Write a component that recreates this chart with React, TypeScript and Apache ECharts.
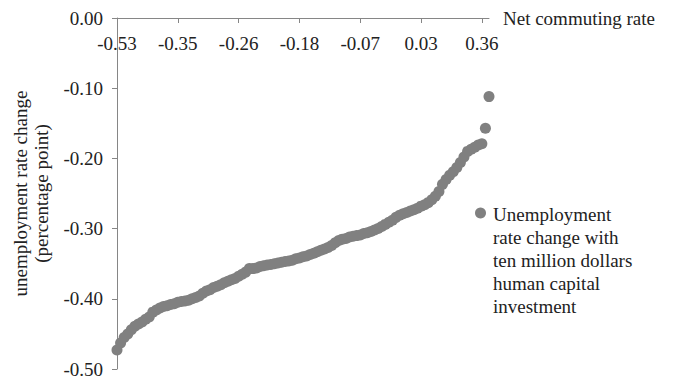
import React, { useEffect, useRef } from "react";
import * as echarts from "echarts";

// Net commuting rate tick labels shown on the top axis (every 17th ranked region)
const xTickLabels = ["-0.53", "-0.35", "-0.26", "-0.18", "-0.07", "0.03", "0.36"];
const tickStep = 17;

// Unemployment rate change (percentage point), regions ranked by net commuting rate
const unemploymentChange = [
  -0.473, -0.463, -0.455, -0.45, -0.444, -0.439, -0.436, -0.433, -0.429, -0.426,
  -0.419, -0.416, -0.413, -0.411, -0.41, -0.408, -0.407, -0.405, -0.404, -0.403,
  -0.402, -0.4, -0.398, -0.396, -0.392, -0.389, -0.387, -0.384, -0.382, -0.38,
  -0.377, -0.375, -0.373, -0.371, -0.368, -0.365, -0.362, -0.357, -0.357, -0.356,
  -0.354, -0.353, -0.352, -0.351, -0.35, -0.349, -0.348, -0.347, -0.346, -0.345,
  -0.343, -0.342, -0.34, -0.339, -0.337, -0.335, -0.333, -0.331, -0.329, -0.327,
  -0.324, -0.32, -0.317, -0.315, -0.314, -0.312, -0.311, -0.31, -0.309, -0.307,
  -0.306, -0.304, -0.302, -0.3, -0.297, -0.294, -0.291, -0.288, -0.284, -0.281,
  -0.279, -0.277, -0.275, -0.273, -0.271, -0.268, -0.266, -0.263, -0.259, -0.254,
  -0.247, -0.237, -0.23, -0.224, -0.219, -0.213, -0.206, -0.198, -0.19, -0.187,
  -0.184, -0.181, -0.179, -0.157, -0.112,
];

const categories = unemploymentChange.map((_, i) => String(i));

const seriesName = "Unemployment\nrate change with\nten million dollars\nhuman capital\ninvestment";

const FONT = "Liberation Serif, Times New Roman, serif";
const TEXT = "#222222";
const AXIS = "#868686";
const MARK = "#808080";

export default function App() {
  const ref = useRef<HTMLDivElement>(null);

  useEffect(() => {
    if (!ref.current) return;
    const chart = echarts.init(ref.current, null, { renderer: "svg" });
    chart.setOption({
      animation: false,
      textStyle: { fontFamily: FONT },
      grid: { left: 117, top: 18, width: 372, height: 351, containLabel: false },
      xAxis: {
        type: "category",
        data: categories,
        position: "top",
        boundaryGap: false,
        name: "Net commuting rate",
        nameLocation: "end",
        nameGap: 14,
        nameTextStyle: { fontFamily: FONT, fontSize: 19, color: TEXT, padding: [12, 0, 0, 0] },
        axisLine: { onZero: false, lineStyle: { color: AXIS, width: 1 } },
        axisTick: { show: true, inside: true, length: 5, interval: tickStep - 1, lineStyle: { color: AXIS } },
        axisLabel: {
          inside: true,
          margin: 16,
          interval: tickStep - 1,
          fontFamily: FONT,
          fontSize: 19,
          color: TEXT,
          formatter: (_v: string, idx: number) =>
            idx % tickStep === 0 ? xTickLabels[idx / tickStep] ?? "" : "",
        },
        splitLine: { show: false },
      },
      yAxis: {
        type: "value",
        min: -0.5,
        max: 0,
        interval: 0.1,
        name: "unemployment rate change\n(percentage point)",
        nameLocation: "middle",
        nameGap: 65,
        nameTextStyle: { fontFamily: FONT, fontSize: 19, color: TEXT, lineHeight: 21 },
        axisLine: { show: true, lineStyle: { color: AXIS, width: 1 } },
        axisTick: { show: true, length: 5, lineStyle: { color: AXIS } },
        axisLabel: {
          margin: 14,
          fontFamily: FONT,
          fontSize: 19,
          color: TEXT,
          formatter: (v: number) => v.toFixed(2),
        },
        splitLine: { show: false },
      },
      series: [
        {
          name: seriesName,
          type: "scatter",
          data: unemploymentChange,
          symbol: "circle",
          symbolSize: 11,
          itemStyle: { color: MARK, opacity: 1 },
        },
      ],
      graphic: [
        {
          type: "circle",
          shape: { cx: 480.5, cy: 213, r: 5.5 },
          style: { fill: MARK },
        },
        {
          type: "text",
          x: 493,
          y: 202.5,
          style: {
            text: seriesName,
            font: `19px ${FONT}`,
            fill: TEXT,
            lineHeight: 23,
            verticalAlign: "top",
            align: "left",
          },
        },
      ],
    });
    return () => chart.dispose();
  }, []);

  return (
    <div
      ref={ref}
      style={{ position: "fixed", left: 0, top: 0, width: 674, height: 381, background: "#fff" }}
    />
  );
}
